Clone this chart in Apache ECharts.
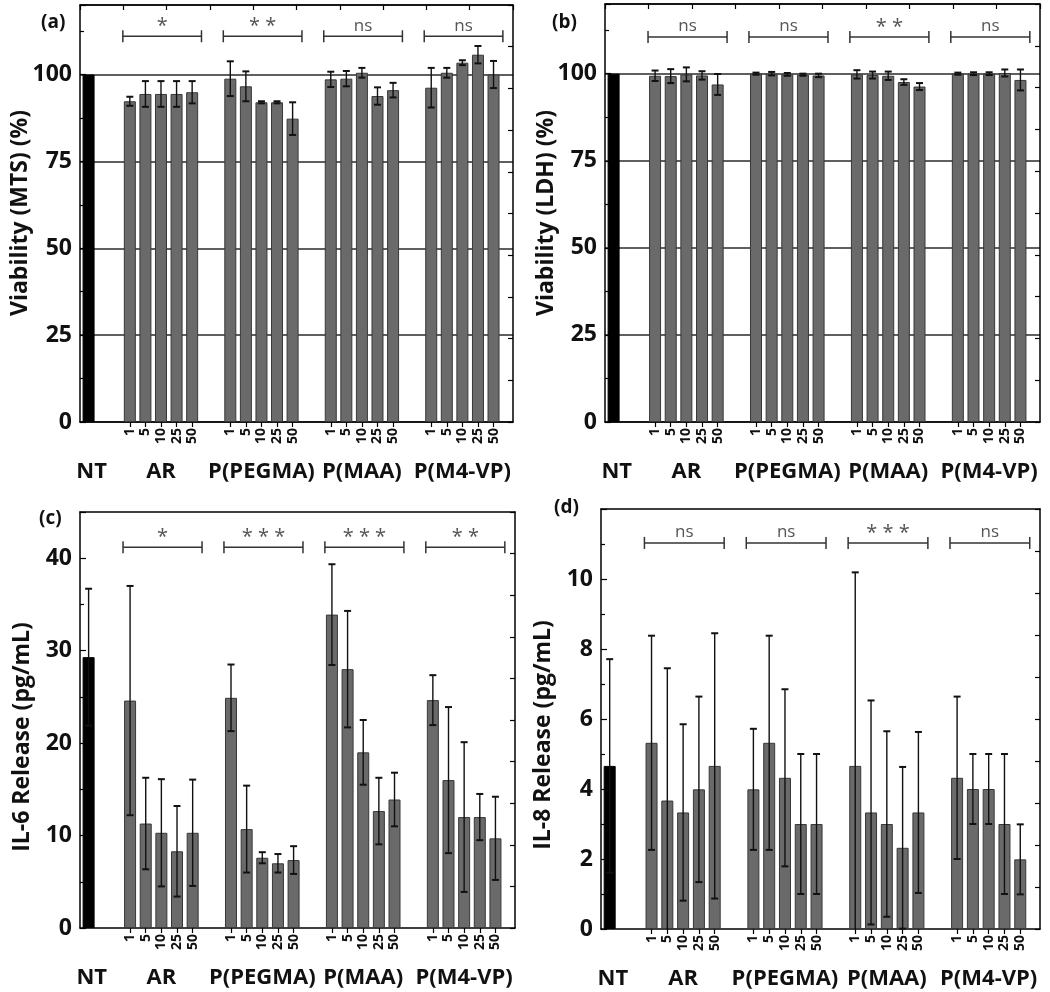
<!DOCTYPE html>
<html>
<head>
<meta charset="utf-8">
<script src="https://cdn.jsdelivr.net/npm/echarts@6/dist/echarts.min.js"></script>
<style>
html,body{margin:0;padding:0;background:#fff;}
#chart{width:1050px;height:992px;}
</style>
</head>
<body>
<div id="chart"></div>
<script>
// ---------------- data ----------------
const groups = ['AR', 'P(PEGMA)', 'P(MAA)', 'P(M4-VP)'];
const doses = ['1', '5', '10', '25', '50'];

// (a) Viability MTS (%)
const mtsNT = [100, 0];
const mtsMean = [[92.3, 94.4, 94.4, 94.4, 94.9], [98.8, 96.6, 92.0, 92.0, 87.3], [98.6, 98.8, 100.5, 93.8, 95.5], [96.2, 100.5, 103.4, 105.7, 100.0]];
const mtsErr = [[1.3, 3.7, 3.7, 3.7, 3.2], [5.0, 4.3, 0.3, 0.3, 4.7], [2.2, 2.2, 1.4, 2.5, 2.1], [5.7, 1.4, 0.7, 2.5, 3.9]];
const mtsSig = ['*', '**', 'ns', 'ns'];

// (b) Viability LDH (%)
const ldhNT = [100, 0];
const ldhMean = [[99.4, 99.3, 99.8, 99.5, 96.9], [100.0, 100.0, 99.8, 99.7, 99.5], [99.8, 99.6, 99.4, 97.6, 96.3], [100.0, 100.0, 100.0, 100.2, 98.2]];
const ldhErr = [[1.5, 2.0, 2.0, 1.2, 3.0], [0.3, 0.5, 0.4, 0.3, 0.5], [1.2, 1.0, 1.2, 0.8, 1.0], [0.3, 0.4, 0.4, 1.0, 3.0]];
const ldhSig = ['ns', 'ns', '**', 'ns'];

// (c) IL-6 release (pg/mL)
const il6NT = [29.3, 7.4];
const il6Mean = [[24.6, 11.3, 10.3, 8.3, 10.3], [24.9, 10.7, 7.6, 7.0, 7.35], [33.9, 28.0, 19.0, 12.65, 13.9], [24.65, 16.0, 12.0, 12.0, 9.7]];
const il6Err = [[12.4, 4.95, 5.8, 4.9, 5.75], [3.6, 4.7, 0.6, 1.0, 1.5], [5.45, 6.3, 3.5, 3.6, 2.9], [2.7, 7.9, 8.1, 2.5, 4.5]];
const il6Sig = ['*', '***', '***', '**'];

// (d) IL-8 release (pg/mL)
const il8NT = [4.66, 3.05];
const il8Mean = [[5.32, 3.67, 3.33, 3.99, 4.66], [3.99, 5.32, 4.32, 3.0, 3.0], [4.66, 3.33, 3.0, 2.32, 3.33], [4.32, 4.0, 4.0, 3.0, 1.99]];
const il8Err = [[3.06, 3.78, 2.52, 2.65, 3.79], [1.73, 3.06, 2.53, 2.0, 2.0], [5.53, 3.2, 2.65, 2.31, 2.3], [2.32, 1.0, 1.0, 2.0, 1.0]];
const il8Sig = ['ns', 'ns', '***', 'ns'];

// ---------------- layout ----------------
const X_MAX = 27.8;
const NT_POS = 0.55;
const GROUP_START = [3.2, 9.65, 16.1, 22.55];
const FONT = "'Open Sans', 'DejaVu Sans', sans-serif";

const panels = [
  { tag: '(a)', title: 'Viability (MTS) (%)', grid: { left: 80, top: 5, width: 433, height: 417 },
    yMax: 120, yInt: 25, split: true, topTicks: true, nt: mtsNT, mean: mtsMean, err: mtsErr, sig: mtsSig, sigY: 111,
    tagPos: [41, 24], titlePos: [20, 213] },
  { tag: '(b)', title: 'Viability (LDH) (%)', grid: { left: 605, top: 4, width: 435, height: 418 },
    yMax: 120, yInt: 25, split: true, topTicks: true, nt: ldhNT, mean: ldhMean, err: ldhErr, sig: ldhSig, sigY: 110.5,
    tagPos: [552, 24], titlePos: [546, 213] },
  { tag: '(c)', title: 'IL-6 Release (pg/mL)', grid: { left: 80, top: 512, width: 435, height: 416 },
    yMax: 45, yInt: 10, split: false, topTicks: false, nt: il6NT, mean: il6Mean, err: il6Err, sig: il6Sig, sigY: 41.2,
    tagPos: [39, 520], titlePos: [22, 737] },
  { tag: '(d)', title: 'IL-8 Release (pg/mL)', grid: { left: 601, top: 509, width: 439, height: 420 },
    yMax: 12, yInt: 2, split: false, topTicks: false, nt: il8NT, mean: il8Mean, err: il8Err, sig: il8Sig, sigY: 11.03,
    tagPos: [554, 509], titlePos: [543, 735] }
];

const key = v => v.toFixed(2);
const barPositions = [];
const doseLabelMap = {};
GROUP_START.forEach(s => doses.forEach((d, i) => { barPositions.push(s + i); doseLabelMap[key(s + i)] = d; }));
const groupCenters = [NT_POS + 0.2].concat(GROUP_START.map(s => s + 2));
const groupLabelMap = {};
['NT'].concat(groups).forEach((g, i) => { groupLabelMap[key(groupCenters[i])] = g; });

const grids = [], xAxes = [], yAxes = [], series = [], graphics = [];

panels.forEach((p, k) => {
  grids.push(Object.assign({ outerBoundsMode: 'none', containLabel: false }, p.grid));
  const axisLine = { show: true, onZero: false, lineStyle: { color: '#000', width: 1.5 } };
  // main bottom axis with dose labels
  xAxes.push({
    gridIndex: k, type: 'value', position: 'bottom', min: 0, max: X_MAX,
    axisLine: axisLine,
    axisTick: { show: true, customValues: barPositions, length: 5, lineStyle: { color: '#000', width: 1.2 } },
    axisLabel: { show: true, customValues: barPositions, rotate: 90, margin: 6,
      formatter: v => doseLabelMap[key(v)] || '', fontSize: 14, fontWeight: 'bold', color: '#111', fontFamily: FONT },
    splitLine: { show: false }
  });
  // group labels
  xAxes.push({
    gridIndex: k, type: 'value', position: 'bottom', min: 0, max: X_MAX,
    axisLine: { show: false, onZero: false }, axisTick: { show: false }, splitLine: { show: false },
    axisLabel: { show: true, customValues: groupCenters, margin: 39,
      formatter: v => groupLabelMap[key(v)] || '', fontSize: 22, fontWeight: 'bold', color: '#111', fontFamily: FONT }
  });
  // top frame
  xAxes.push({
    gridIndex: k, type: 'value', position: 'top', min: 0, max: 10, interval: 1,
    axisLine: axisLine, axisTick: { show: p.topTicks, inside: true, length: 5, lineStyle: { color: '#000', width: 1.2 } },
    axisLabel: { show: false }, splitLine: { show: false }
  });
  yAxes.push({
    gridIndex: k, type: 'value', position: 'left', min: 0, max: p.yMax, interval: p.yInt,
    axisLine: axisLine,
    axisTick: { show: true, inside: true, length: 6, lineStyle: { color: '#000', width: 1.2 } },
    minorTick: { show: true, splitNumber: 2, length: 4, lineStyle: { color: '#000', width: 1.2 } },
    axisLabel: { show: true, showMaxLabel: false, margin: 8, fontSize: 23, fontWeight: 'bold', color: '#111', fontFamily: FONT },
    splitLine: { show: p.split, lineStyle: { color: '#2a2a2a', width: 1.6 } }
  });
  yAxes.push({
    gridIndex: k, type: 'value', position: 'right', min: 0, max: p.yMax, interval: p.yMax / 10,
    axisLine: axisLine,
    axisTick: { show: true, inside: true, length: 5, lineStyle: { color: '#000', width: 1.2 } },
    axisLabel: { show: false }, splitLine: { show: false }
  });

  const xi = 3 * k, yi = 2 * k;
  const barData = [{ value: [NT_POS, p.nt[0]], itemStyle: { color: '#000', borderColor: '#000' } }];
  const errData = [];
  if (p.nt[1] > 0) errData.push([NT_POS, p.nt[0], p.nt[1]]);
  GROUP_START.forEach((s, g) => {
    p.mean[g].forEach((m, i) => {
      barData.push({ value: [s + i, m] });
      errData.push([s + i, m, p.err[g][i]]);
    });
  });
  series.push({
    type: 'bar', xAxisIndex: xi, yAxisIndex: yi, data: barData, barWidth: 12,
    itemStyle: { color: '#6a6a6a', borderColor: '#383838', borderWidth: 1 },
    silent: true, animation: false, z: 2
  });
  series.push({
    type: 'custom', xAxisIndex: xi, yAxisIndex: yi, data: errData, encode: { x: 0, y: 1 },
    silent: true, animation: false, z: 5,
    renderItem: (params, api) => {
      const x = api.value(0), m = api.value(1), e = api.value(2);
      const lo = Math.max(0, m - e);
      const pt = api.coord([x, m + e]);
      const pb = api.coord([x, lo]);
      const hw = 3.5;
      const st = { stroke: '#111', lineWidth: 1.4 };
      const ch = [
        { type: 'line', shape: { x1: pt[0], y1: pt[1], x2: pb[0], y2: pb[1] }, style: st },
        { type: 'line', shape: { x1: pt[0] - hw, y1: pt[1], x2: pt[0] + hw, y2: pt[1] }, style: { stroke: '#111', lineWidth: 2 } }
      ];
      if (m - e > 0) ch.push({ type: 'line', shape: { x1: pb[0] - hw, y1: pb[1], x2: pb[0] + hw, y2: pb[1] }, style: { stroke: '#111', lineWidth: 2 } });
      return { type: 'group', children: ch };
    }
  });
  const sigData = GROUP_START.map(s => [s - 0.45, s + 4.6, p.sigY]);
  const sigLabels = p.sig;
  series.push({
    type: 'custom', xAxisIndex: xi, yAxisIndex: yi, data: sigData, encode: { x: [0, 1], y: 2 },
    silent: true, animation: false, z: 5,
    renderItem: (params, api) => {
      const a = api.coord([api.value(0), api.value(2)]);
      const b = api.coord([api.value(1), api.value(2)]);
      const st = { stroke: '#333', lineWidth: 1.5 };
      const lbl = sigLabels[params.dataIndex];
      const isStar = lbl.indexOf('*') >= 0;
      return { type: 'group', children: [
        { type: 'line', shape: { x1: a[0], y1: a[1], x2: b[0], y2: b[1] }, style: st },
        { type: 'line', shape: { x1: a[0], y1: a[1] - 6, x2: a[0], y2: a[1] + 6 }, style: st },
        { type: 'line', shape: { x1: b[0], y1: b[1] - 6, x2: b[0], y2: b[1] + 6 }, style: st },
        { type: 'text', x: (a[0] + b[0]) / 2, y: a[1] - (isStar ? 0 : 2),
          style: { text: isStar ? lbl.split('').join(' ') : lbl, fill: '#555', font: (isStar ? '20px ' : '17px ') + FONT,
            textAlign: 'center', textVerticalAlign: 'bottom' } }
      ] };
    }
  });

  graphics.push({ type: 'text', left: p.tagPos[0], top: p.tagPos[1] - 11,
    style: { text: p.tag, font: 'bold 19px ' + FONT, fill: '#111' } });
  graphics.push({ type: 'text', x: p.titlePos[0], y: p.titlePos[1], rotation: Math.PI / 2,
    style: { text: p.title, font: 'bold 23px ' + FONT, fill: '#111', textAlign: 'center', textVerticalAlign: 'middle' } });
});

const chart = echarts.init(document.getElementById('chart'), null, { renderer: 'canvas' });
chart.setOption({
  backgroundColor: '#fff',
  animation: false,
  grid: grids,
  xAxis: xAxes,
  yAxis: yAxes,
  series: series,
  graphic: graphics
});
</script>
</body>
</html>
